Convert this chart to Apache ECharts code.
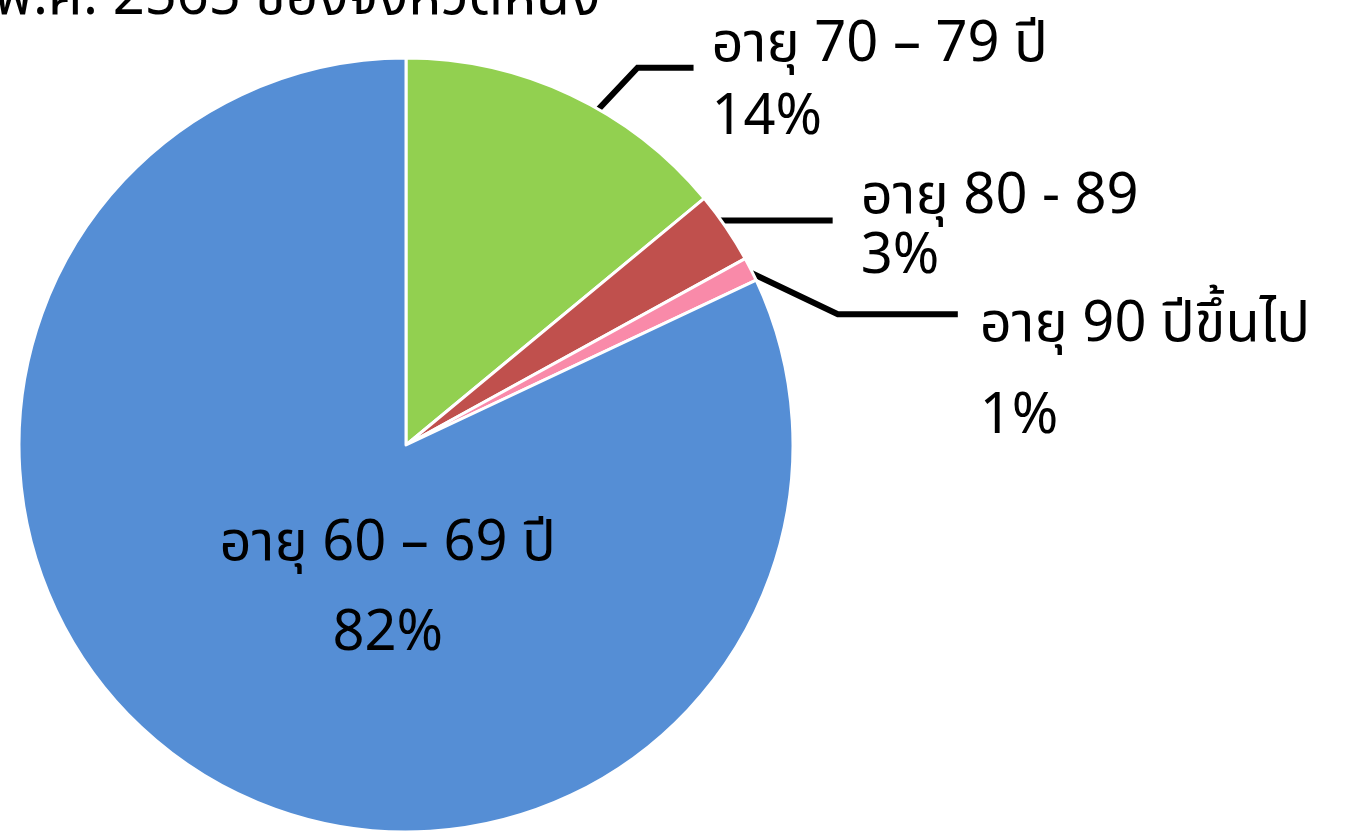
<!DOCTYPE html>
<html>
<head>
<meta charset="utf-8">
<script src="https://cdn.jsdelivr.net/npm/echarts@6/dist/echarts.min.js"></script>
<style>
  html, body { margin: 0; padding: 0; background: #fff; }
  #main { width: 1353px; height: 831px; }
</style>
</head>
<body>
<div id="main"></div>
<script>
// data (clockwise from 12 o'clock)
var ageGroups = ['อายุ 70 – 79 ปี', 'อายุ 80 - 89', 'อายุ 90 ปีขึ้นไป', 'อายุ 60 – 69 ปี']
var shares = [14.0, 3.0, 1.0, 82.0]
var colors = ['#92D050', '#C0504D', '#F98AA9', '#558ED5']
var titleText = 'พ.ศ. 2565 ของจังหวัดหนึ่ง'

var font = "'Noto Sans Thai', 'Noto Sans', sans-serif"

// label tweaks per slice
var labelCfg = [
  { lineHeight: 73, distance: 18, length: 30, length2: 110 },
  { lineHeight: 60, distance: 30, length: 14, length2: 93 },
  { lineHeight: 92, distance: 22, length: 20, length2: 185 },
  { lineHeight: 90 }
]
var labelShift = [[0, 18], [0, 12], [4, 115], [87, -17]]
var lineStyle = { color: '#000', width: 6 }

var chartDom = document.getElementById('main')
var myChart = echarts.init(chartDom)
var option

var pieData = ageGroups.map(function (name, i) {
  var c = labelCfg[i]
  var item = {
    name: name,
    value: shares[i],
    itemStyle: { color: colors[i] }
  }
  if (i === 3) {
    item.label = { position: 'inside', lineHeight: c.lineHeight }
  } else {
    item.label = { lineHeight: c.lineHeight, distanceToLabelLine: c.distance }
    item.labelLine = { show: true, length: c.length, length2: c.length2, lineStyle: lineStyle }
  }
  return item
})

option = {
  animation: false,
  graphic: [
    {
      type: 'text',
      x: -6,
      y: 31,
      style: {
        text: titleText,
        font: '56px ' + font,
        fill: '#000',
        textVerticalAlign: 'bottom'
      }
    }
  ],
  series: [
    {
      type: 'pie',
      center: [406, 445],
      radius: 387,
      startAngle: 90,
      clockwise: true,
      percentPrecision: 0,
      avoidLabelOverlap: false,
      itemStyle: {
        borderColor: '#fff',
        borderWidth: 3
      },
      label: {
        show: true,
        formatter: '{b}\n{d}%',
        fontFamily: font,
        fontSize: 56,
        color: '#000',
        align: 'left'
      },
      labelLine: {
        show: true,
        lineStyle: lineStyle
      },
      labelLayout: function (params) {
        var i = params.dataIndex
        var s = labelShift[i]
        var res = { hideOverlap: false, dx: s[0], dy: s[1] }
        var pts = params.labelLinePoints
        if (!pts) return res
        if (i === 0) {
          // knee sits further right, like the source chart
          res.labelLinePoints = [
            [pts[0][0] + 28, pts[0][1] + 14],
            [pts[2][0] - 56, pts[2][1]],
            pts[2]
          ]
        }
        if (i === 1) {
          // straight horizontal leader starting inside the slice
          res.labelLinePoints = [
            [pts[2][0] - 124, pts[2][1] + 1],
            [pts[2][0] + 2, pts[2][1] + 1]
          ]
        }
        if (i === 2) {
          // leader line drops down to the label
          res.labelLinePoints = [
            [pts[0][0] + 1, pts[0][1] + 4],
            [pts[0][0] + 87, pts[0][1] + 45],
            [pts[0][0] + 207, pts[0][1] + 45]
          ]
        }
        return res
      },
      emphasis: { disabled: true },
      data: pieData
    }
  ]
}
option && myChart.setOption(option)
</script>
</body>
</html>
